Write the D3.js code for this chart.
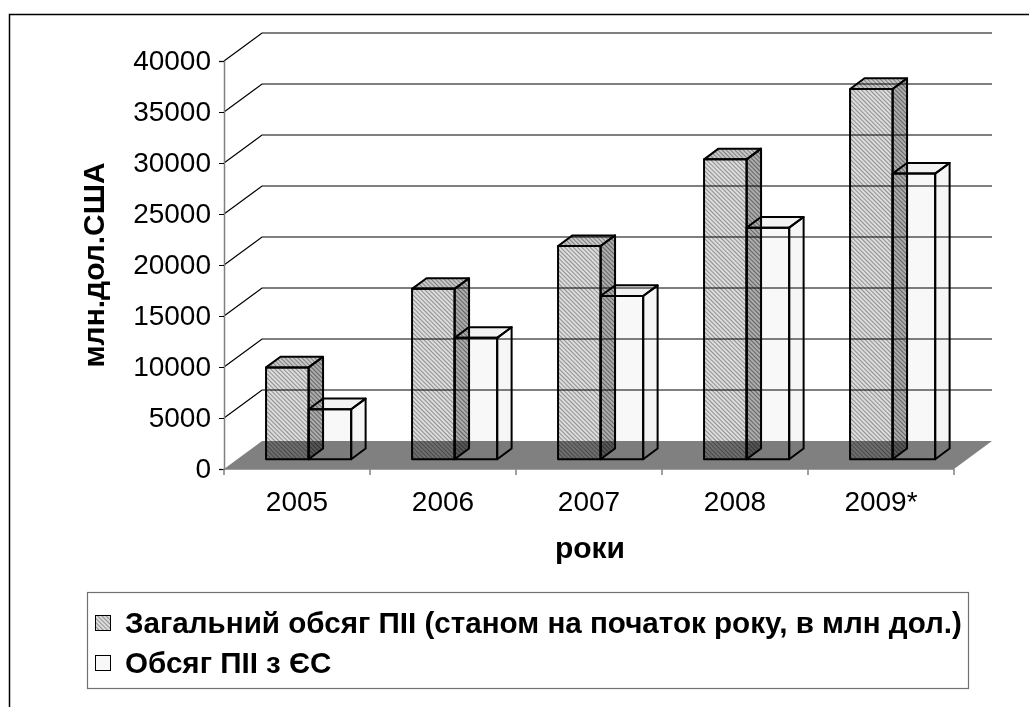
<!DOCTYPE html>
<html lang="uk">
<head>
  <meta charset="UTF-8" />
  <title>Обсяг ПІІ</title>
  <script src="https://d3js.org/d3.v7.min.js"></script>
  <style>
    body { margin: 0; background: #fff; }
    svg { display: block; font-family: "Liberation Sans", Arial, sans-serif; }
    .ytick text, .xlab { font-size: 28px; fill: #000; }
    .axis-title { font-size: 30px; font-weight: bold; }
    .legend-text { font-size: 29.6px; font-weight: bold; }
  </style>
</head>
<body>
<svg id="chart" width="1029" height="707"></svg>
<script>
const years = ["2005", "2006", "2007", "2008", "2009*"];
const totalFdi = [9000, 16700, 20900, 29400, 36300];
const euFdi = [4900, 11900, 16000, 22700, 28000];
const yTicks = [0, 5000, 10000, 15000, 20000, 25000, 30000, 35000, 40000];
const seriesNames = [
  "Загальний обсяг ПІІ (станом на початок року, в млн дол.)",
  "Обсяг ПІІ з ЄС"
];

const svg = d3.select("#chart");
const floorDX = 38, floorDY = -28;       // depth of the floor / back wall
const barPlane = 0.35, barDepth = 0.38;  // bar position inside the depth

const y = d3.scaleLinear().domain([0, 40000]).range([469, 61]);
const x = d3.scaleBand().domain(years).range([224, 954]);
const bw = x.bandwidth();
const inner = d3.scaleBand().domain([0, 1]).range([0.197 * bw, 0.78 * bw]);

// outer frame
svg.append("rect").attr("x", 9.5).attr("y", 14.5).attr("width", 1100).attr("height", 800)
  .attr("fill", "none").attr("stroke", "#000").attr("stroke-width", 1.5);

// hatch patterns
const defs = svg.append("defs");
function hatch(id, bg, line) {
  const p = defs.append("pattern").attr("id", id).attr("patternUnits", "userSpaceOnUse")
    .attr("width", 3).attr("height", 3).attr("patternTransform", "rotate(45)");
  p.append("rect").attr("width", 3).attr("height", 3).attr("fill", bg);
  p.append("line").attr("x1", 0).attr("y1", 0.5).attr("x2", 3).attr("y2", 0.5)
    .attr("stroke", line).attr("stroke-width", 1);
}
hatch("h-front", "#dcdcdc", "#909090");
hatch("h-top", "#c8c8c8", "#808080");
hatch("h-side", "#acacac", "#646464");

const fills = [
  { front: "url(#h-front)", top: "url(#h-top)", side: "url(#h-side)" },
  { front: "#f8f8f8", top: "#f2f2f2", side: "#f6f6f6" }
];

// bars
const bdx = floorDX * barDepth, bdy = floorDY * barDepth;
const px = floorDX * barPlane, py = floorDY * barPlane;
const bars = [];
years.forEach((yr, i) => {
  [euFdi[i], totalFdi[i]].forEach((v, k) => {
    const s = 1 - k;
    const x0 = x(yr) + px + inner(s), x1 = x0 + inner.bandwidth();
    bars.push({ s, x0, x1, yt: y(v) + py, yb: y(0) + py });
  });
});
const faces = b => [
  { f: "front", p: [[b.x0, b.yt], [b.x1, b.yt], [b.x1, b.yb], [b.x0, b.yb]] },
  { f: "top", p: [[b.x0, b.yt], [b.x1, b.yt], [b.x1 + bdx, b.yt + bdy], [b.x0 + bdx, b.yt + bdy]] },
  { f: "side", p: [[b.x1, b.yt], [b.x1 + bdx, b.yt + bdy], [b.x1 + bdx, b.yb + bdy], [b.x1, b.yb]] }
];
const line = d3.line();
const gBars = svg.append("g");
bars.forEach(b => {
  faces(b).forEach(fc => {
    gBars.append("path").attr("d", line(fc.p) + "Z").attr("fill", fills[b.s][fc.f]).attr("stroke", "none");
  });
});
bars.forEach(b => {
  faces(b).forEach(fc => {
    gBars.append("path").attr("d", line(fc.p) + "Z").attr("fill", "none")
      .attr("stroke", "#000").attr("stroke-width", 2).attr("stroke-linejoin", "round");
  });
});

// floor and back wall grid, multiplied over the bars
const gWall = svg.append("g").style("mix-blend-mode", "multiply");
gWall.append("path")
  .attr("d", line([[224, y(0)], [954, y(0)], [954 + floorDX, y(0) + floorDY], [224 + floorDX, y(0) + floorDY]]) + "Z")
  .attr("fill", "#808080");
yTicks.filter(t => t > 0).forEach(t => {
  gWall.append("path")
    .attr("d", line([[224, y(t)], [224 + floorDX, y(t) + floorDY], [954 + floorDX, y(t) + floorDY]]))
    .attr("fill", "none").attr("stroke", "#000").attr("stroke-width", 1.2);
});

// y axis
const yAxis = svg.append("g").attr("class", "ytick").attr("transform", "translate(224,0)")
  .call(d3.axisLeft(y).tickValues(yTicks).tickSize(5).tickPadding(8).tickFormat(d3.format("d")));
yAxis.select(".domain").attr("stroke", "#808080").attr("stroke-width", 1.5);
yAxis.selectAll(".tick line").attr("stroke", "#000");
yAxis.selectAll(".tick text").attr("font-family", null).attr("font-size", null);

// x axis: front edge of floor with ticks at category boundaries
svg.append("line").attr("x1", 224).attr("x2", 954).attr("y1", y(0)).attr("y2", y(0))
  .attr("stroke", "#808080").attr("stroke-width", 1.5);
const bounds = years.map(d => x(d)).concat([x(years[years.length - 1]) + bw]);
svg.selectAll(".xtick").data(bounds).join("line")
  .attr("x1", d => d).attr("x2", d => d).attr("y1", y(0)).attr("y2", y(0) + 6)
  .attr("stroke", "#808080").attr("stroke-width", 1.5);
svg.selectAll(".xlab").data(years).join("text").attr("class", "xlab")
  .attr("x", d => x(d) + bw / 2).attr("y", 511).attr("text-anchor", "middle").text(d => d);

// axis titles
svg.append("text").attr("class", "axis-title").attr("text-anchor", "middle")
  .attr("transform", "translate(104,265) rotate(-90)").text("млн.дол.США");
svg.append("text").attr("class", "axis-title").attr("text-anchor", "middle")
  .attr("x", 590).attr("y", 558).text("роки");

// legend
svg.append("rect").attr("x", 87.5).attr("y", 592.5).attr("width", 881).attr("height", 96)
  .attr("fill", "#fff").attr("stroke", "#707070").attr("stroke-width", 1.2);
const legFill = ["url(#h-front)", "#f8f8f8"];
seriesNames.forEach((name, i) => {
  const cy = 623 + i * 40;
  svg.append("rect").attr("x", 95.5).attr("y", cy - 7.5).attr("width", 15).attr("height", 15)
    .attr("fill", legFill[i]).attr("stroke", "#000").attr("stroke-width", 1);
  svg.append("text").attr("class", "legend-text").attr("x", 125).attr("y", cy + 10).text(name);
});
</script>
</body>
</html>
